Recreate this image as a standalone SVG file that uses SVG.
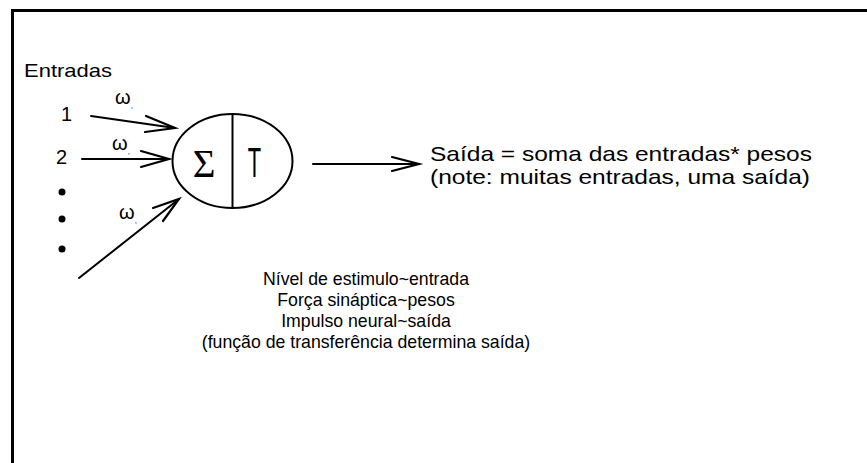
<svg xmlns="http://www.w3.org/2000/svg" width="867" height="463" viewBox="0 0 867 463">
<style>
.t{font-family:"Liberation Sans",Arial,sans-serif;fill:#000}
.w{font-family:"Liberation Sans",Arial,sans-serif;font-size:20px;fill:#000}
.ln{stroke:#000;stroke-width:2;fill:none;stroke-linecap:round}
.ah{stroke:#000;stroke-width:2.2;fill:none;stroke-linejoin:miter;stroke-linecap:round}
</style>
<rect width="867" height="463" fill="#fff"/>
<g id="frame">
<line x1="11" y1="10.5" x2="867" y2="10.5" stroke="#000" stroke-width="3"/>
<line x1="12.5" y1="9" x2="12.5" y2="463" stroke="#000" stroke-width="3"/>
</g>
<g id="inputs">
<text class="t" x="24" y="77" font-size="19" textLength="88" lengthAdjust="spacingAndGlyphs">Entradas</text>
<text class="t" x="61" y="121" font-size="20">1</text>
<text class="t" x="56" y="164" font-size="20">2</text>
<circle cx="62" cy="192" r="3.5" fill="#000"/>
<circle cx="62" cy="219" r="3.5" fill="#000"/>
<circle cx="62" cy="249" r="3.5" fill="#000"/>
<text class="w" x="115" y="104">ω<tspan font-size="8" dy="4">,</tspan></text>
<text class="w" x="112" y="150">ω<tspan font-size="8" dy="4">,</tspan></text>
<text class="w" x="119" y="219">ω<tspan font-size="8" dy="4">,</tspan></text>
</g>
<g id="neuron">
<ellipse cx="232.5" cy="161" rx="60" ry="47" fill="none" stroke="#000" stroke-width="2"/>
<line x1="232.5" y1="114" x2="232.5" y2="208" stroke="#000" stroke-width="2"/>
<text x="204" y="177" font-family="'Liberation Serif','DejaVu Serif',serif" font-size="39" text-anchor="middle">Σ</text>
<text class="t" transform="translate(254.5 177) scale(0.52 1)" x="0" y="0" font-size="42" text-anchor="middle">T</text>
</g>
<g id="connectors">
<line class="ln" x1="91" y1="116" x2="175" y2="128"/>
<polyline class="ah" points="146,116 175,128 145,132"/>
<line class="ln" x1="82" y1="159" x2="169" y2="159"/>
<polyline class="ah" points="141,151 169,159 141,167"/>
<line class="ln" x1="79" y1="278" x2="179" y2="199"/>
<polyline class="ah" points="153,208 179,199 163,221"/>
<line class="ln" x1="313" y1="164" x2="419" y2="164"/>
<polyline class="ah" points="392,157 419,164 392,171"/>
</g>
<g id="output">
<text class="t" x="430" y="161" font-size="21" textLength="382" lengthAdjust="spacingAndGlyphs">Saída = soma das entradas* pesos</text>
<text class="t" x="430" y="184" font-size="21" textLength="380" lengthAdjust="spacingAndGlyphs">(note: muitas entradas, uma saída)</text>
</g>
<g id="notes" text-anchor="middle">
<text class="t" x="366" y="285" font-size="17.7">Nível de estimulo~entrada</text>
<text class="t" x="366" y="306" font-size="17.7">Força sináptica~pesos</text>
<text class="t" x="366" y="327" font-size="17.7">Impulso neural~saída</text>
<text class="t" x="366" y="348" font-size="17.7">(função de transferência determina saída)</text>
</g>
</svg>
